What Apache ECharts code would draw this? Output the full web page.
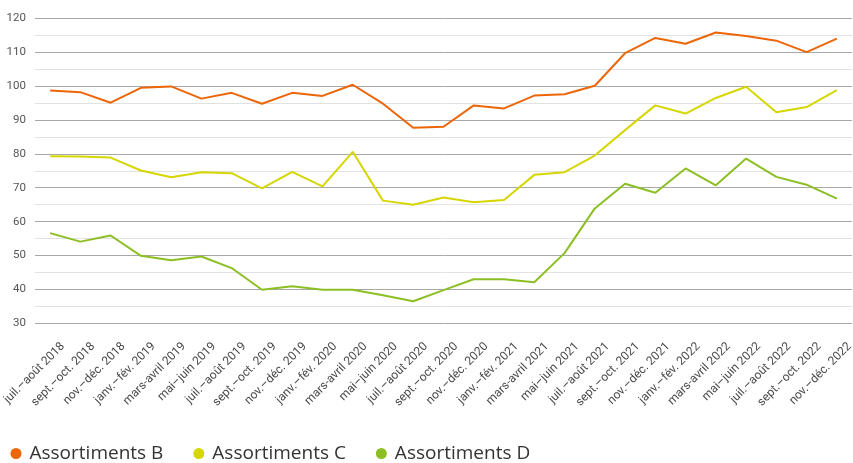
<!DOCTYPE html>
<html>
<head>
<meta charset="utf-8">
<script src="https://cdn.jsdelivr.net/npm/echarts@6/dist/echarts.min.js"></script>
<style>
html,body{margin:0;padding:0;background:#fff;}
#chart{width:853px;height:463px;}
</style>
</head>
<body>
<div id="chart"></div>
<script>
const categories = [
  "juil.–août 2018","sept.–oct. 2018","nov.–déc. 2018",
  "janv.–fév. 2019","mars-avril 2019","mai–juin 2019","juil.–août 2019","sept.–oct. 2019","nov.–déc. 2019",
  "janv.–fév. 2020","mars-avril 2020","mai–juin 2020","juil.–août 2020","sept.–oct. 2020","nov.–déc. 2020",
  "janv.–fév. 2021","mars-avril 2021","mai–juin 2021","juil.–août 2021","sept.–oct. 2021","nov.–déc. 2021",
  "janv.–fév. 2022","mars-avril 2022","mai–juin 2022","juil.–août 2022","sept.–oct. 2022","nov.–déc. 2022"
];
const seriesNames = ["Assortiments B","Assortiments C","Assortiments D"];
const valuesB = [98.7,98.2,95.1,99.5,99.9,96.3,98.0,94.8,98.0,97.1,100.4,94.8,87.7,88.0,94.3,93.4,97.2,97.6,100.1,109.7,114.2,112.5,115.8,114.8,113.4,110.0,114.0];
const valuesC = [79.3,79.2,78.9,75.1,73.1,74.6,74.3,69.8,74.7,70.4,80.6,66.2,65.0,67.1,65.7,66.4,73.8,74.6,79.5,87.0,94.3,91.9,96.5,99.8,92.3,93.8,98.8];
const valuesD = [56.6,54.1,55.9,49.9,48.6,49.7,46.3,39.9,40.9,39.9,39.9,38.3,36.5,39.8,43.0,43.0,42.1,50.7,63.9,71.2,68.5,75.7,70.7,78.6,73.2,70.9,66.8];
const colors = ["#ec6608","#d6d600","#8cbf24"];

const chart = echarts.init(document.getElementById('chart'), null, {renderer:'canvas'});
const font = 'Roboto, "DejaVu Sans", sans-serif';
chart.setOption({
  animation:false,
  color: colors,
  textStyle:{fontFamily:font},
  grid:{left:35,right:1,top:18.3,bottom:139.7,containLabel:false,outerBoundsMode:'none'},
  legend:{
    left:5.5, top:439, icon:'circle', itemWidth:11, itemHeight:11, itemGap:30,
    textStyle:{fontSize:19,color:'#333',fontFamily:'"Open Sans", sans-serif',padding:[0,0,0,3]},
    data: seriesNames
  },
  xAxis:{
    type:'category', data:categories, boundaryGap:true,
    axisLine:{show:false}, axisTick:{show:false},
    axisLabel:{rotate:45,fontSize:12,color:'#4a4a4a',margin:34,interval:0,fontFamily:font,padding:[0,-18,0,0]}
  },
  yAxis:{
    type:'value', min:30, max:120, interval:10,
    axisLine:{show:false}, axisTick:{show:false},
    axisLabel:{fontSize:11.5,color:'#555',margin:9,fontFamily:font},
    splitLine:{lineStyle:{color:'#a8a8a8',width:1}},
    minorTick:{show:false,splitNumber:2},
    minorSplitLine:{show:true,lineStyle:{color:'#e2e2e2',width:1}}
  },
  series:[
    {name:seriesNames[0],type:'line',data:valuesB,symbol:'none',lineStyle:{width:2}},
    {name:seriesNames[1],type:'line',data:valuesC,symbol:'none',lineStyle:{width:2}},
    {name:seriesNames[2],type:'line',data:valuesD,symbol:'none',lineStyle:{width:2}}
  ]
});
</script>
</body>
</html>
